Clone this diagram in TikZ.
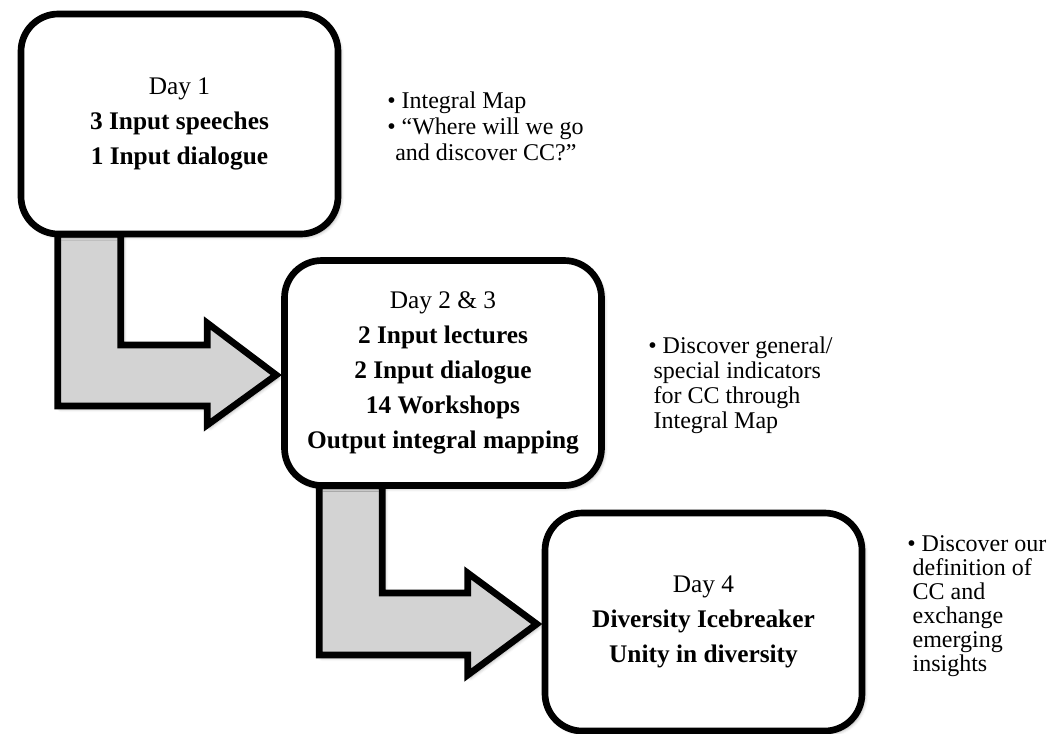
\documentclass[tikz,border=0pt]{standalone}
\usepackage{fontspec}
\setmainfont{Liberation Serif}
\usetikzlibrary{calc,shadows.blur}
\definecolor{arrowgray}{RGB}{211,211,211}
\tikzset{
  daybox/.style={draw=black, line width=5pt, rounded corners=28pt, fill=white,
    minimum width=237.75pt, inner sep=0pt, align=center,
    font=\fontsize{19}{26.25}\selectfont,
    blur shadow={shadow xshift=2pt, shadow yshift=-2pt, shadow blur radius=2.5pt, shadow opacity=35}},
  blockarrow/.style={draw=black, line width=5pt, fill=arrowgray, line join=miter,
    blur shadow={shadow xshift=2pt, shadow yshift=-2pt, shadow blur radius=2.5pt, shadow opacity=35}},
  note/.style={anchor=base west, align=left, inner sep=0pt}
}
\begin{document}
\begin{tikzpicture}[x=0.75pt, y=-0.75pt]
\useasboundingbox (0,0) rectangle (1056,733);

\path (179.5,124) coordinate (c1) (443,373) coordinate (c2) (703.5,622) coordinate (c3);

% reference frames for the block arrows
\node[minimum width=237.75pt, minimum height=165pt, inner sep=0pt] (r1) at (c1) {};
\node[minimum width=237.75pt, minimum height=168.75pt, inner sep=0pt] (r2) at (c2) {};
\node[minimum width=237.75pt, minimum height=163.5pt, inner sep=0pt] (r3) at (c3) {};

% block arrow 1
\path[blockarrow] ($(r1.south west)+(37,0)$) |- ($(r2.west)+(-77,33)$) -- ++(0,19)
  -- ($(r2.west)+(-8,2)$) -- ($(r2.west)+(-77,-50)$) -- ++(0,22)
  -| ($(r1.south west)+(100,0)$) -- cycle;

% block arrow 2
\path[blockarrow] ($(r2.south west)+(35,0)$) |- ($(r3.west)+(-77,33)$) -- ++(0,20)
  -- ($(r3.west)+(-8,2)$) -- ($(r3.west)+(-77,-49)$) -- ++(0,20)
  -| ($(r2.south west)+(98,0)$) -- cycle;

\node[daybox, minimum height=165pt] (b1) at (c1)
  {Day 1\\\textbf{3 Input speeches}\\\textbf{1 Input dialogue}};
\node[daybox, minimum height=168.75pt] (b2) at (c2)
  {Day 2 \& 3\\\textbf{2 Input lectures}\\\textbf{2 Input dialogue}\\\textbf{14 Workshops}\\\textbf{Output integral mapping}};
\node[daybox, minimum height=163.5pt] (b3) at (c3)
  {Day 4\\\textbf{Diversity Icebreaker}\\\textbf{Unity in diversity}};

\node[note, font=\fontsize{18}{19.5}\selectfont] (n1) at (387,160)
  {\textbullet\ Integral Map\\\textbullet\ “Where will we go\\\hspace*{6pt}and discover CC?”};
\node[note, font=\fontsize{18}{18.75}\selectfont] (n2) at (648,428)
  {\textbullet\ Discover general/\\\hspace*{4pt}special indicators\\\hspace*{4pt}for CC through\\\hspace*{4pt}Integral Map};
\node[note, font=\fontsize{18}{18}\selectfont] (n3) at (907,671)
  {\textbullet\ Discover our\\\hspace*{4pt}definition of\\\hspace*{4pt}CC and\\\hspace*{4pt}exchange\\\hspace*{4pt}emerging\\\hspace*{4pt}insights};
\end{tikzpicture}
\end{document}
